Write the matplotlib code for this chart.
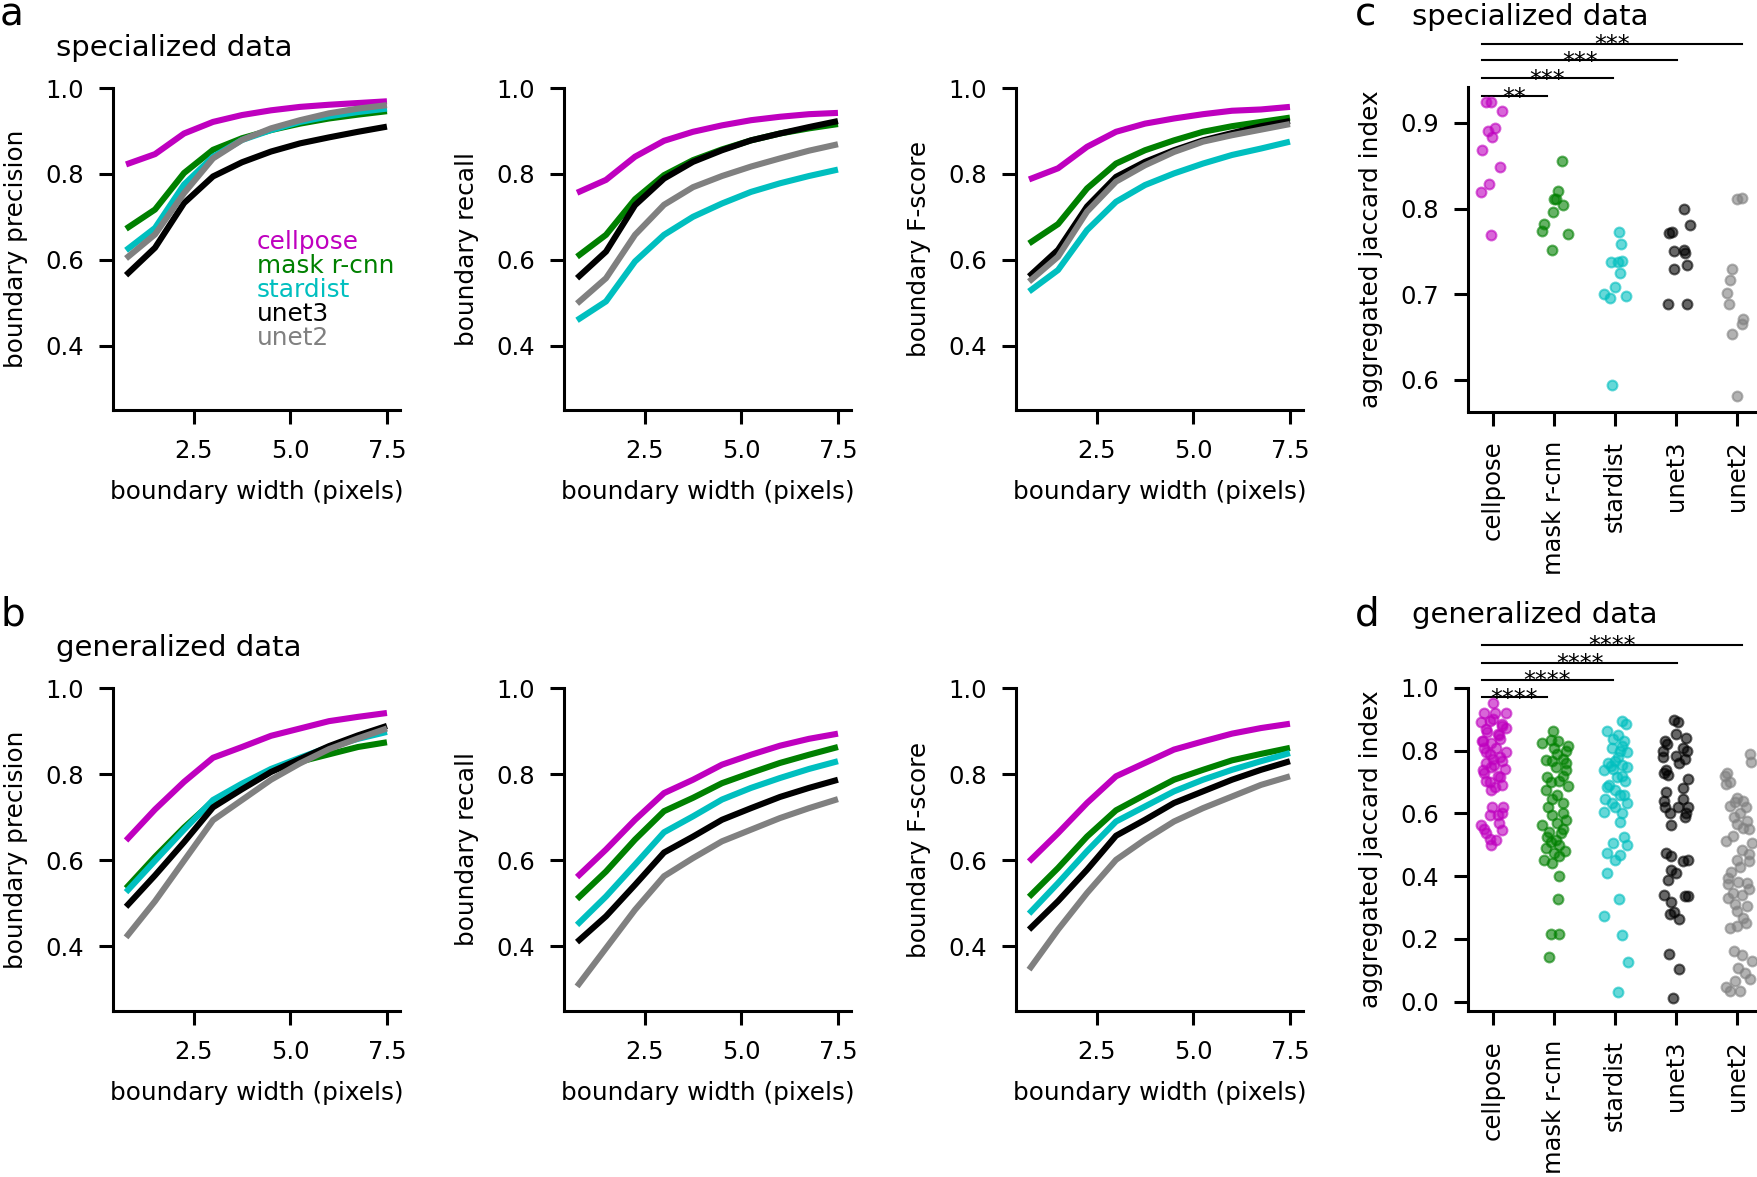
import matplotlib
matplotlib.use('Agg')
import matplotlib.pyplot as plt
import numpy as np

# ---------------- data ----------------
methods = ['cellpose', 'mask r-cnn', 'stardist', 'unet3', 'unet2']
colors = ['#bf00bf', '#008000', '#00bfbf', '#000000', '#808080']
widths = [0.75, 1.5, 2.25, 3.0, 3.75, 4.5, 5.25, 6.0, 6.75, 7.5]

spec_precision = {
    'cellpose':   [0.822, 0.846, 0.894, 0.921, 0.937, 0.948, 0.956, 0.961, 0.965, 0.969],
    'mask r-cnn': [0.672, 0.717, 0.802, 0.856, 0.883, 0.902, 0.917, 0.929, 0.938, 0.946],
    'stardist':   [0.622, 0.674, 0.775, 0.840, 0.879, 0.902, 0.921, 0.934, 0.944, 0.952],
    'unet3':      [0.564, 0.628, 0.732, 0.794, 0.827, 0.852, 0.871, 0.885, 0.898, 0.910],
    'unet2':      [0.603, 0.659, 0.755, 0.836, 0.879, 0.906, 0.925, 0.941, 0.952, 0.960],
}
spec_recall = {
    'cellpose':   [0.756, 0.786, 0.840, 0.877, 0.898, 0.913, 0.925, 0.933, 0.939, 0.942],
    'mask r-cnn': [0.607, 0.658, 0.741, 0.797, 0.832, 0.857, 0.878, 0.894, 0.906, 0.916],
    'stardist':   [0.459, 0.503, 0.596, 0.658, 0.700, 0.731, 0.758, 0.778, 0.795, 0.810],
    'unet3':      [0.557, 0.619, 0.727, 0.789, 0.828, 0.855, 0.878, 0.894, 0.909, 0.923],
    'unet2':      [0.498, 0.557, 0.658, 0.728, 0.769, 0.795, 0.817, 0.836, 0.854, 0.869],
}
spec_fscore = {
    'cellpose':   [0.787, 0.813, 0.863, 0.898, 0.917, 0.929, 0.939, 0.947, 0.950, 0.956],
    'mask r-cnn': [0.638, 0.683, 0.766, 0.824, 0.855, 0.878, 0.898, 0.911, 0.921, 0.931],
    'stardist':   [0.526, 0.576, 0.669, 0.735, 0.774, 0.801, 0.824, 0.844, 0.859, 0.875],
    'unet3':      [0.561, 0.623, 0.724, 0.793, 0.828, 0.855, 0.878, 0.895, 0.911, 0.923],
    'unet2':      [0.549, 0.607, 0.712, 0.782, 0.820, 0.851, 0.875, 0.890, 0.903, 0.916],
}
gen_precision = {
    'cellpose':   [0.646, 0.718, 0.782, 0.838, 0.863, 0.889, 0.906, 0.923, 0.933, 0.942],
    'mask r-cnn': [0.535, 0.608, 0.676, 0.737, 0.774, 0.808, 0.829, 0.846, 0.863, 0.874],
    'stardist':   [0.526, 0.599, 0.671, 0.740, 0.778, 0.812, 0.838, 0.863, 0.882, 0.898],
    'unet3':      [0.492, 0.565, 0.642, 0.723, 0.765, 0.805, 0.835, 0.865, 0.890, 0.912],
    'unet2':      [0.421, 0.505, 0.599, 0.693, 0.740, 0.787, 0.825, 0.858, 0.883, 0.906],
}
gen_recall = {
    'cellpose':   [0.561, 0.625, 0.694, 0.756, 0.787, 0.822, 0.845, 0.866, 0.882, 0.894],
    'mask r-cnn': [0.510, 0.574, 0.648, 0.714, 0.745, 0.779, 0.803, 0.826, 0.845, 0.863],
    'stardist':   [0.450, 0.516, 0.590, 0.665, 0.702, 0.741, 0.768, 0.791, 0.812, 0.830],
    'unet3':      [0.410, 0.470, 0.543, 0.618, 0.655, 0.694, 0.721, 0.747, 0.768, 0.787],
    'unet2':      [0.307, 0.396, 0.485, 0.563, 0.605, 0.644, 0.671, 0.698, 0.721, 0.742],
}
gen_fscore = {
    'cellpose':   [0.597, 0.663, 0.733, 0.795, 0.826, 0.857, 0.876, 0.894, 0.907, 0.917],
    'mask r-cnn': [0.515, 0.582, 0.655, 0.716, 0.752, 0.787, 0.810, 0.832, 0.847, 0.861],
    'stardist':   [0.476, 0.547, 0.621, 0.690, 0.725, 0.760, 0.787, 0.810, 0.830, 0.849],
    'unet3':      [0.439, 0.505, 0.578, 0.657, 0.694, 0.733, 0.760, 0.787, 0.810, 0.830],
    'unet2':      [0.346, 0.439, 0.524, 0.601, 0.648, 0.690, 0.721, 0.748, 0.775, 0.795],
}

# specialized aggregated jaccard index (values, jitter)
spec_aji = {
    'cellpose':   [0.925, 0.925, 0.914, 0.891, 0.894, 0.884, 0.868, 0.849, 0.829, 0.819, 0.769],
    'mask r-cnn': [0.855, 0.820, 0.811, 0.811, 0.804, 0.796, 0.782, 0.774, 0.770, 0.752],
    'stardist':   [0.773, 0.759, 0.738, 0.738, 0.739, 0.725, 0.708, 0.700, 0.695, 0.698, 0.594],
    'unet3':      [0.799, 0.781, 0.772, 0.773, 0.751, 0.752, 0.748, 0.734, 0.729, 0.689, 0.689],
    'unet2':      [0.811, 0.812, 0.730, 0.717, 0.701, 0.688, 0.671, 0.665, 0.654, 0.581],
}
spec_jit = {
    'cellpose':   [-0.11, -0.04, 0.14, -0.08, 0.04, -0.01, -0.18, 0.12, -0.07, -0.20, -0.04],
    'mask r-cnn': [0.125, 0.065, 0.0, 0.03, 0.14, -0.01, -0.16, -0.19, 0.22, -0.03],
    'stardist':   [0.07, 0.10, -0.065, 0.045, 0.115, 0.087, 0.0, -0.185, -0.08, 0.18, -0.05],
    'unet3':      [0.125, 0.22, -0.12, -0.065, -0.04, 0.125, 0.15, 0.18, -0.04, -0.13, 0.18],
    'unet2':      [0.0, 0.07, -0.09, -0.125, -0.16, -0.135, 0.10, 0.08, -0.09, 0.0],
}

# generalized aggregated jaccard index (values, jitter)
gen_aji = {
    'cellpose': [0.953, 0.921, 0.921, 0.921, 0.890, 0.895, 0.884, 0.874, 0.868, 0.853, 0.832, 0.826,
                 0.837, 0.795, 0.795, 0.774, 0.768, 0.740, 0.747, 0.742, 0.716, 0.705, 0.684, 0.674,
                 0.621, 0.595, 0.595, 0.563, 0.547, 0.537, 0.516, 0.500, 0.860, 0.850, 0.810, 0.810,
                 0.790, 0.780, 0.760, 0.755, 0.730, 0.720, 0.700, 0.690, 0.900, 0.880, 0.830, 0.620,
                 0.570, 0.550, 0.520, 0.600],
    'mask r-cnn': [0.863, 0.826, 0.832, 0.816, 0.800, 0.770, 0.768, 0.774, 0.747, 0.737, 0.716, 0.705,
                   0.689, 0.674, 0.647, 0.632, 0.595, 0.600, 0.563, 0.568, 0.542, 0.537, 0.526, 0.516,
                   0.500, 0.490, 0.474, 0.463, 0.453, 0.442, 0.400, 0.326, 0.216, 0.216, 0.142, 0.790,
                   0.760, 0.720, 0.700, 0.660, 0.620, 0.580, 0.550, 0.510, 0.480, 0.835, 0.810],
    'stardist': [0.895, 0.884, 0.863, 0.837, 0.832, 0.810, 0.800, 0.795, 0.768, 0.760, 0.754, 0.737,
                 0.742, 0.747, 0.716, 0.705, 0.684, 0.674, 0.647, 0.658, 0.632, 0.632, 0.605, 0.600,
                 0.574, 0.526, 0.505, 0.500, 0.474, 0.468, 0.453, 0.410, 0.326, 0.272, 0.213, 0.126,
                 0.030, 0.780, 0.750, 0.720, 0.690, 0.660, 0.620, 0.850, 0.815],
    'unet3': [0.897, 0.893, 0.832, 0.853, 0.842, 0.800, 0.810, 0.784, 0.774, 0.779, 0.737, 0.721,
              0.710, 0.682, 0.668, 0.647, 0.621, 0.621, 0.600, 0.589, 0.563, 0.474, 0.463, 0.447,
              0.421, 0.410, 0.389, 0.337, 0.337, 0.316, 0.286, 0.263, 0.153, 0.105, 0.010, 0.820,
              0.800, 0.760, 0.730, 0.640, 0.620, 0.600, 0.450, 0.340, 0.280],
    'unet2': [0.788, 0.765, 0.729, 0.694, 0.635, 0.641, 0.624, 0.600, 0.576, 0.565, 0.512, 0.506,
              0.482, 0.471, 0.453, 0.412, 0.376, 0.382, 0.379, 0.347, 0.341, 0.312, 0.306, 0.265,
              0.235, 0.241, 0.147, 0.129, 0.106, 0.065, 0.071, 0.035, 0.033, 0.047, 0.553, 0.529,
              0.447, 0.394, 0.720, 0.700, 0.650, 0.620, 0.590, 0.550, 0.430, 0.360, 0.330, 0.290,
              0.250, 0.160, 0.090],
}
gen_jit = {
    'cellpose': [0.0, -0.14, 0.03, 0.22, -0.19, -0.05, 0.14, 0.22, -0.11, 0.08, -0.16, -0.03,
                 0.11, 0.22, -0.11, 0.0, 0.14, -0.16, -0.03, 0.19, 0.11, -0.11, 0.03, -0.03,
                 0.16, -0.05, 0.08, -0.19, 0.14, -0.11, 0.05, -0.03, -0.10, 0.10, -0.15, 0.05,
                 -0.05, 0.12, -0.12, 0.02, -0.15, 0.08, -0.05, 0.15, 0.0, 0.15, -0.18, -0.02,
                 0.10, -0.15, -0.05, 0.15],
    'mask r-cnn': [-0.01, -0.20, 0.07, 0.22, 0.19, -0.14, -0.03, 0.14, 0.03, 0.19, -0.11, 0.08,
                   0.22, -0.14, -0.03, 0.14, -0.03, 0.14, -0.19, 0.05, -0.08, 0.11, -0.11, 0.03,
                   0.08, -0.14, 0.0, 0.08, -0.16, -0.03, 0.08, 0.07, -0.05, 0.08, -0.09, 0.05,
                   0.20, 0.15, -0.05, 0.05, -0.10, 0.20, 0.15, -0.05, 0.18, -0.05, 0.0],
    'stardist': [0.11, 0.18, -0.14, -0.03, 0.14, -0.05, 0.08, 0.19, 0.0, -0.11, 0.11, -0.19,
                 -0.03, 0.19, 0.03, 0.16, -0.14, 0.0, -0.16, 0.08, 0.19, -0.05, -0.19, 0.11,
                 0.08, 0.14, -0.03, 0.19, -0.14, 0.08, 0.0, -0.13, 0.07, -0.18, 0.11, 0.21,
                 0.04, 0.05, -0.07, 0.12, -0.10, 0.15, 0.0, 0.05, 0.12],
    'unet3': [-0.03, 0.03, -0.19, 0.0, 0.16, -0.22, 0.11, 0.0, 0.14, -0.22, -0.16, -0.14,
              0.19, 0.11, -0.16, 0.11, -0.19, 0.03, 0.16, 0.14, -0.08, -0.16, -0.08, 0.11,
              -0.08, 0.0, -0.14, 0.14, 0.19, -0.08, -0.03, 0.05, -0.11, 0.05, -0.05, -0.15,
              0.18, 0.05, -0.20, -0.20, 0.20, -0.10, 0.20, -0.20, -0.10],
    'unet2': [0.21, 0.22, -0.16, -0.18, -0.04, 0.10, -0.12, 0.045, 0.16, -0.01, -0.18, 0.24,
              0.07, 0.185, -0.01, -0.10, -0.15, 0.02, 0.16, -0.07, 0.07, -0.04, 0.16, 0.10,
              -0.12, -0.01, 0.07, 0.24, 0.02, -0.04, 0.21, -0.12, 0.045, -0.18, 0.10, -0.07,
              0.185, -0.15, -0.20, -0.12, 0.0, 0.15, -0.05, 0.20, 0.05, 0.20, -0.15, 0.0,
              0.15, -0.05, 0.12],
}

spec_stars = ['**', '***', '***', '***']
gen_stars = ['****', '****', '****', '****']
sig_ends = [0.88, 1.96, 3.02, 4.08]
spec_sig_y = [0.931, 0.952, 0.973, 0.9926]
gen_sig_y = [0.970, 1.027, 1.081, 1.137]

# ---------------- style ----------------
W, H = 1758, 1177
plt.rcParams.update({
    'font.family': 'DejaVu Sans',
    'font.size': 17.5,
    'axes.linewidth': 2.2,
    'xtick.major.width': 2.2, 'ytick.major.width': 2.2,
    'xtick.major.size': 10, 'ytick.major.size': 10,
    'xtick.major.pad': 11, 'ytick.major.pad': 11,
    'xtick.labelsize': 17.5, 'ytick.labelsize': 17.5,
    'axes.labelsize': 17.8,
    'axes.spines.top': False, 'axes.spines.right': False,
})

fig = plt.figure(figsize=(W / 100, H / 100), dpi=100)


def px_axes(left, top, right, bottom):
    return fig.add_axes([left / W, 1 - bottom / H, (right - left) / W, (bottom - top) / H])


def line_panel(ax, data, ylabel, legend=False):
    for m, c in zip(methods, colors):
        ax.plot(widths, data[m], color=c, lw=4.4, solid_capstyle='butt')
    ax.set_ylim(0.25, 1.0)
    ax.set_yticks([0.4, 0.6, 0.8, 1.0])
    ax.set_xticks([2.5, 5.0, 7.5])
    ax.set_xlabel('boundary width (pixels)', labelpad=12)
    ax.set_ylabel(ylabel, labelpad=12)
    if legend:
        for i, (m, c) in enumerate(zip(methods, colors)):
            ax.text(0.502, (410 - (242 + 24 * i)) / 322, m, color=c, fontsize=17.8,
                    transform=ax.transAxes, va='center', ha='left')


col_left = [113, 564, 1016]
rows = [(88, 410), (688, 1011)]
spec_sets = [(spec_precision, 'boundary precision'), (spec_recall, 'boundary recall'),
             (spec_fscore, 'boundary F-score')]
gen_sets = [(gen_precision, 'boundary precision'), (gen_recall, 'boundary recall'),
            (gen_fscore, 'boundary F-score')]

for r, sets in enumerate([spec_sets, gen_sets]):
    top, bot = rows[r]
    for j, (d, lab) in enumerate(sets):
        ax = px_axes(col_left[j], top, col_left[j] + 287, bot)
        line_panel(ax, d, lab, legend=(r == 0 and j == 0))


def strip_panel(ax, vals, jit, ylim, yticks, stars, sig_y):
    for i, (m, c) in enumerate(zip(methods, colors)):
        x = i + np.array(jit[m])
        ax.scatter(x, vals[m], s=50, color=c, alpha=0.6, linewidths=1.5, zorder=3)
    ax.set_xlim(-0.41, 4.52)
    ax.set_ylim(*ylim)
    ax.set_yticks(yticks)
    ax.set_xticks(range(len(methods)))
    ax.set_xticklabels(methods, rotation=90)
    ax.set_ylabel('aggregated jaccard index', labelpad=12)
    for xe, yy, st in zip(sig_ends, sig_y, stars):
        ax.plot([-0.18, xe], [yy, yy], color='k', lw=1.5, clip_on=False)
        ax.annotate(st, xy=((-0.18 + xe) / 2, yy), xytext=(0, -6), textcoords='offset points',
                    ha='center', va='baseline', fontsize=17, annotation_clip=False)


axc = px_axes(1468, 87.5, 1769, 411.5)
strip_panel(axc, spec_aji, spec_jit, (0.563, 0.9414), [0.6, 0.7, 0.8, 0.9], spec_stars, spec_sig_y)
axd = px_axes(1468, 688, 1769, 1011)
strip_panel(axd, gen_aji, gen_jit, (-0.03, 1.0), [0.0, 0.2, 0.4, 0.6, 0.8, 1.0], gen_stars, gen_sig_y)


def ftext(x, ybase, s, size):
    fig.text(x / W, 1 - ybase / H, s, fontsize=size, ha='left', va='baseline')


ftext(0, 26, 'a', 28)
ftext(56, 56, 'specialized data', 21)
ftext(0, 625, 'b', 28)
ftext(56, 656, 'generalized data', 21)
ftext(1355, 26, 'c', 28)
ftext(1412, 25, 'specialized data', 21)
ftext(1355, 625, 'd', 28)
ftext(1412, 623, 'generalized data', 21)

fig.savefig('out.png', dpi=100)
